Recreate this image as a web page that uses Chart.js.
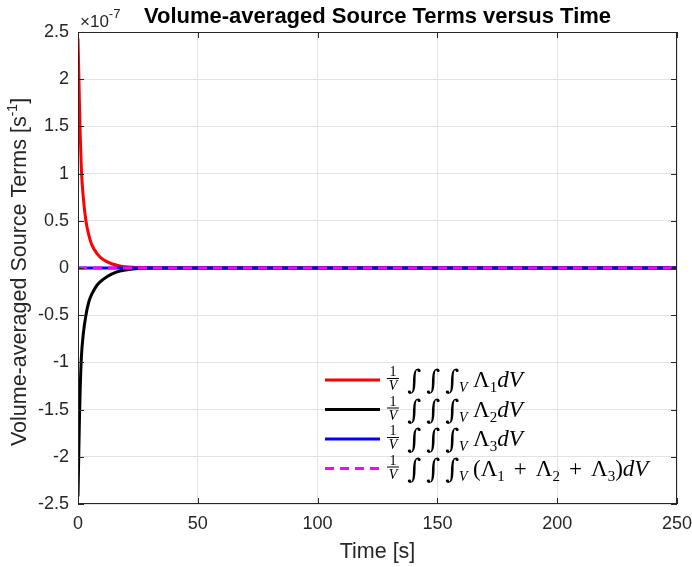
<!DOCTYPE html>
<html>
<head>
<meta charset="utf-8">
<script src="https://cdn.jsdelivr.net/npm/chart.js@4.4.0/dist/chart.umd.min.js"></script>
<style>
  html, body { margin: 0; padding: 0; background: #fff; }
  #wrap { width: 692px; height: 567px; }
</style>
</head>
<body>
<div id="wrap"><canvas id="chart" width="692" height="567"></canvas></div>
<script>
// time samples [s]
const timeS = [0, 0.3, 0.6, 0.9, 1.4, 2.2, 3.3, 4.5, 5.7, 8, 10.5, 14, 17.5, 23, 29, 35, 50, 100, 150, 200, 250];
// source terms in units of 1e-7 s^-1
const lambda1 = [2.43, 2.1, 1.75, 1.45, 1.05, 0.75, 0.5, 0.35, 0.25, 0.15, 0.09, 0.045, 0.022, 0.007, 0.002, 0.0005, 0, 0, 0, 0, 0];
const lambda2 = [-2.42, -2.0, -1.6, -1.3, -0.95, -0.7, -0.5, -0.36, -0.28, -0.18, -0.12, -0.065, -0.032, -0.01, -0.003, -0.001, 0, 0, 0, 0, 0];
const lambda3 = [0, 0, 0, 0, 0, 0, 0, 0, 0, 0, 0, 0, 0, 0, 0, 0, 0, 0, 0, 0, 0];
const lambdaSum = [0, 0, 0, 0, 0, 0, 0, 0, 0, 0, 0, 0, 0, 0, 0, 0, 0, 0, 0, 0, 0];

const xTicks = [0, 50, 100, 150, 200, 250];
const yTicks = [-2.5, -2, -1.5, -1, -0.5, 0, 0.5, 1, 1.5, 2, 2.5];
const exponent = '-7';

const seriesColors = ['#ff0000', '#000000', '#0000ff', '#ff00ff'];
// subscripts of Lambda in each legend entry
const legendTerms = [[1], [2], [3], [1, 2, 3]];

const titleText = 'Volume-averaged Source Terms versus Time';
const xLabel = 'Time [s]';
const yLabel = 'Volume-averaged Source Terms [s';

const AXIS = '#262626';
const SANS = '"Liberation Sans", Arial, sans-serif';
const SERIF = '"Liberation Serif", "DejaVu Serif", serif';

const toPoints = arr => arr.map((v, i) => ({ x: timeS[i], y: v }));

// draw a run of text pieces left to right
function drawRuns(ctx, x, y, runs) {
  runs.forEach(r => {
    ctx.font = r.font;
    x += r.pad || 0;
    ctx.fillText(r.text, x, y + (r.dy || 0));
    x += ctx.measureText(r.text).width + (r.pad || 0);
  });
  return x;
}

function drawLegendMath(ctx, x, base, terms) {
  // fraction 1/V
  ctx.textAlign = 'center';
  ctx.font = '14px ' + SERIF;
  ctx.fillText('1', x + 7, base - 11);
  ctx.fillRect(x + 1, base - 9, 12, 1);
  ctx.font = 'italic 14px ' + SERIF;
  ctx.fillText('V', x + 7, base + 3);
  ctx.textAlign = 'left';
  // triple integral
  ctx.font = 'italic 27px "DejaVu Serif", serif';
  [21, 40, 59].forEach(dx => ctx.fillText('\u222B', x + dx, base + 2));
  ctx.font = 'italic 14px ' + SERIF;
  ctx.fillText('V', x + 73, base + 5);
  const runs = [];
  const big = '23px ' + SERIF;
  if (terms.length > 1) runs.push({ text: '(', font: big });
  terms.forEach((t, i) => {
    if (i > 0) runs.push({ text: '+', font: big, pad: 9 });
    runs.push({ text: '\u039B', font: big });
    runs.push({ text: String(t), font: '15px ' + SERIF, dy: 5 });
  });
  if (terms.length > 1) runs.push({ text: ')', font: big });
  runs.push({ text: 'dV', font: 'italic ' + big });
  drawRuns(ctx, x + 87, base, runs);
}

const decorPlugin = {
  id: 'decor',
  afterDraw(chart) {
    const ctx = chart.ctx;
    const a = chart.chartArea;
    const xs = chart.scales.x, ys = chart.scales.y;
    ctx.save();

    // axes box and inward ticks
    ctx.strokeStyle = AXIS;
    ctx.lineWidth = 1;
    ctx.strokeRect(a.left + 0.5, a.top + 0.5, a.right - a.left - 1, a.bottom - a.top - 1);
    ctx.beginPath();
    xTicks.forEach(v => {
      const px = Math.round(xs.getPixelForValue(v)) + 0.5;
      ctx.moveTo(px, a.bottom); ctx.lineTo(px, a.bottom - 6);
      ctx.moveTo(px, a.top); ctx.lineTo(px, a.top + 6);
    });
    yTicks.forEach(v => {
      const py = Math.round(ys.getPixelForValue(v)) + 0.5;
      ctx.moveTo(a.left, py); ctx.lineTo(a.left + 6, py);
      ctx.moveTo(a.right, py); ctx.lineTo(a.right - 6, py);
    });
    ctx.stroke();

    ctx.fillStyle = '#000';
    ctx.textBaseline = 'alphabetic';

    // title
    ctx.font = 'bold 22px ' + SANS;
    ctx.textAlign = 'center';
    ctx.fillText(titleText, (a.left + a.right) / 2, 23);

    // exponent
    ctx.fillStyle = AXIS;
    ctx.textAlign = 'left';
    drawRuns(ctx, a.left + 2, 27, [
      { text: '\u00D710', font: '17px ' + SANS },
      { text: exponent, font: '13px ' + SANS, dy: -9 }
    ]);

    // x label
    ctx.font = '21.5px ' + SANS;
    ctx.textAlign = 'center';
    ctx.textBaseline = 'middle';
    ctx.fillText(xLabel, (a.left + a.right) / 2, 552);

    // y label with superscript
    ctx.save();
    ctx.translate(20, (a.top + a.bottom) / 2 + 4);
    ctx.rotate(-Math.PI / 2);
    ctx.textAlign = 'left';
    ctx.textBaseline = 'middle';
    ctx.font = '21.5px ' + SANS;
    const w1 = ctx.measureText(yLabel).width;
    ctx.font = '14px ' + SANS;
    const w2 = ctx.measureText('-1').width;
    ctx.font = '21.5px ' + SANS;
    const w3 = ctx.measureText(']').width;
    drawRuns(ctx, -(w1 + w2 + w3) / 2, 0, [
      { text: yLabel, font: '21.5px ' + SANS },
      { text: '-1', font: '14px ' + SANS, dy: -7 },
      { text: ']', font: '21.5px ' + SANS }
    ]);
    ctx.restore();

    // legend (no box, transparent)
    ctx.textBaseline = 'alphabetic';
    const rows = [380, 409.5, 439, 468.5];
    chart.data.datasets.forEach((ds, i) => {
      const cy = rows[i];
      ctx.strokeStyle = ds.borderColor;
      ctx.lineWidth = 3;
      ctx.setLineDash(ds.borderDash || []);
      ctx.beginPath();
      ctx.moveTo(325, cy); ctx.lineTo(380, cy);
      ctx.stroke();
      ctx.setLineDash([]);
      ctx.fillStyle = '#000';
      drawLegendMath(ctx, 386, cy + 7, legendTerms[i]);
    });

    ctx.restore();
  }
};

const lineStyle = (data, color, order, dash) => ({
  data: toPoints(data),
  borderColor: color,
  backgroundColor: color,
  borderWidth: 3,
  borderDash: dash || [],
  pointRadius: 0,
  fill: false,
  cubicInterpolationMode: 'monotone',
  order: order
});

new Chart(document.getElementById('chart'), {
  type: 'line',
  data: {
    datasets: [
      lineStyle(lambda1, seriesColors[0], 4),
      lineStyle(lambda2, seriesColors[1], 3),
      lineStyle(lambda3, seriesColors[2], 2),
      lineStyle(lambdaSum, seriesColors[3], 1, [9, 6])
    ]
  },
  options: {
    responsive: false,
    animation: false,
    events: [],
    layout: { padding: { left: 0, top: 32, right: 15, bottom: 0 } },
    plugins: { legend: { display: false }, title: { display: false }, tooltip: { enabled: false } },
    scales: {
      x: {
        type: 'linear',
        min: 0, max: 250,
        afterBuildTicks: s => { s.ticks = xTicks.map(v => ({ value: v })); },
        afterFit: s => { s.height = 63; s.paddingLeft = 0; s.paddingRight = 0; },
        border: { display: false },
        grid: { color: '#e3e3e3', drawTicks: false },
        ticks: { color: AXIS, font: { family: SANS, size: 18 }, padding: 9, maxRotation: 0 }
      },
      y: {
        type: 'linear',
        min: -2.5, max: 2.5,
        afterBuildTicks: s => { s.ticks = yTicks.map(v => ({ value: v })); },
        afterFit: s => { s.width = 78; s.paddingTop = 0; s.paddingBottom = 0; },
        border: { display: false },
        grid: { color: '#e3e3e3', drawTicks: false },
        ticks: { color: AXIS, font: { family: SANS, size: 18 }, padding: 9, callback: v => String(v) }
      }
    }
  },
  plugins: [decorPlugin]
});
</script>
</body>
</html>
